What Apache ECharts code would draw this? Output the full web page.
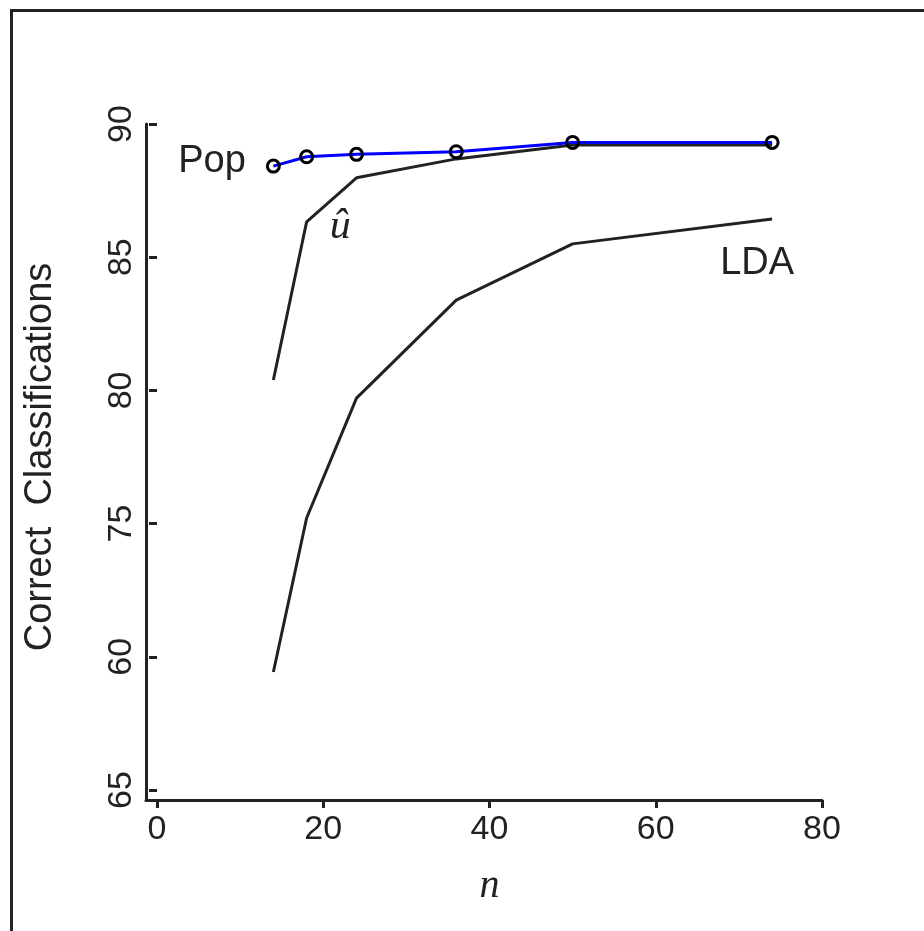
<!DOCTYPE html>
<html>
<head>
<meta charset="utf-8">
<script src="https://cdn.jsdelivr.net/npm/echarts@6/dist/echarts.min.js"></script>
<style>
html,body{margin:0;padding:0;background:#fff;}
#chart{width:924px;height:931px;}
</style>
</head>
<body>
<div id="chart"></div>
<script>
// ---- data ----
const nValues = [14, 18, 24, 36, 50, 74];
const popValues = [88.42, 88.77, 88.86, 88.96, 89.31, 89.31];
const uhatValues = [80.39, 86.33, 87.98, 88.69, 89.21, 89.21];
const ldaValues = [69.43, 75.21, 79.71, 83.39, 85.50, 86.43];
const yTickValues = [65, 70, 75, 80, 85, 90];
const yTickLabels = ['65', '60', '75', '80', '85', '90'];
const xTickValues = [0, 20, 40, 60, 80];
const xTickLabels = ['0', '20', '40', '60', '80'];
const seriesNames = ['Pop', '\u0075\u0302', 'LDA'];
const yTitle = 'Correct  Classifications';
const xTitle = 'n';

const SANS = '"Liberation Sans", Arial, sans-serif';
const SERIF = '"Liberation Serif", "DejaVu Serif", serif';
const INK = '#222222';

function pairs(vals) { return nValues.map((n, i) => [n, vals[i]]); }

const popData = pairs(popValues).map((p, i) => i === 0 ? {
  value: p,
  label: { show: true, formatter: seriesNames[0], position: 'left', distance: 20, offset: [0, -5],
           fontFamily: SANS, fontSize: 38, color: INK }
} : { value: p });

const uhatData = pairs(uhatValues).map((p, i) => i === 1 ? {
  value: p,
  label: { show: true, formatter: seriesNames[1], position: 'right', distance: 14, offset: [9, 5],
           fontFamily: SERIF, fontStyle: 'italic', fontSize: 42, color: INK }
} : { value: p });

const ldaData = pairs(ldaValues).map((p, i) => i === nValues.length - 1 ? {
  value: p,
  label: { show: true, formatter: seriesNames[2], position: 'bottom', distance: 25, offset: [-15, 0],
           fontFamily: SANS, fontSize: 38, color: INK }
} : { value: p });

const chart = echarts.init(document.getElementById('chart'), null, { renderer: 'canvas' });

chart.setOption({
  animation: false,
  backgroundColor: '#ffffff',
  graphic: [{
    type: 'rect', left: 9, top: 8, silent: true,
    shape: { width: 1000, height: 1000 },
    style: { fill: 'none', stroke: INK, lineWidth: 3 }
  }],
  grid: [
    { left: 157, right: 102, top: 124, bottom: 141 },
    { left: 146, right: 102, top: 124, bottom: 131 }
  ],
  xAxis: [{
    gridIndex: 0, type: 'value', min: 0, max: 80, interval: 20, offset: 10,
    axisLine: { show: false },
    axisTick: { show: true, length: 8, lineStyle: { color: INK, width: 3 } },
    axisLabel: { margin: 13, fontFamily: SANS, fontSize: 34, color: INK,
                 formatter: v => xTickLabels[xTickValues.indexOf(v)] },
    splitLine: { show: false },
    name: xTitle, nameLocation: 'middle', nameGap: 66,
    nameTextStyle: { fontFamily: SERIF, fontStyle: 'italic', fontSize: 40, color: INK }
  }, {
    gridIndex: 1, type: 'value', min: 0, max: 1,
    axisLine: { show: true, lineStyle: { color: INK, width: 3 } },
    axisTick: { show: false }, axisLabel: { show: false }, splitLine: { show: false }
  }],
  yAxis: [{
    gridIndex: 0, type: 'value', min: 65, max: 90, interval: 5, offset: 11,
    axisLine: { show: false },
    axisTick: { show: true, length: 8, lineStyle: { color: INK, width: 3 } },
    axisLabel: { rotate: 90, margin: 7, fontFamily: SANS, fontSize: 34, color: INK,
                 formatter: v => yTickLabels[yTickValues.indexOf(v)] },
    splitLine: { show: false },
    name: yTitle, nameLocation: 'middle', nameGap: 86, nameRotate: 90,
    nameTextStyle: { fontFamily: SANS, fontSize: 38, color: INK }
  }, {
    gridIndex: 1, type: 'value', min: 0, max: 1,
    axisLine: { show: true, lineStyle: { color: INK, width: 3 } },
    axisTick: { show: false }, axisLabel: { show: false }, splitLine: { show: false }
  }],
  series: [{
    name: seriesNames[2], type: 'line', xAxisIndex: 0, yAxisIndex: 0,
    data: ldaData, showSymbol: true, symbol: 'circle', symbolSize: 0.1,
    lineStyle: { color: INK, width: 3 }, itemStyle: { color: 'transparent' }
  }, {
    name: seriesNames[1], type: 'line', xAxisIndex: 0, yAxisIndex: 0,
    data: uhatData, showSymbol: true, symbol: 'circle', symbolSize: 0.1,
    lineStyle: { color: INK, width: 3 }, itemStyle: { color: 'transparent' }
  }, {
    name: seriesNames[0], type: 'line', xAxisIndex: 0, yAxisIndex: 0,
    data: popData, symbol: 'circle', symbolSize: 12, showSymbol: true,
    lineStyle: { color: '#0000ff', width: 3 },
    itemStyle: { color: 'transparent', borderColor: '#000000', borderWidth: 3 },
    z: 5
  }]
});
</script>
</body>
</html>
